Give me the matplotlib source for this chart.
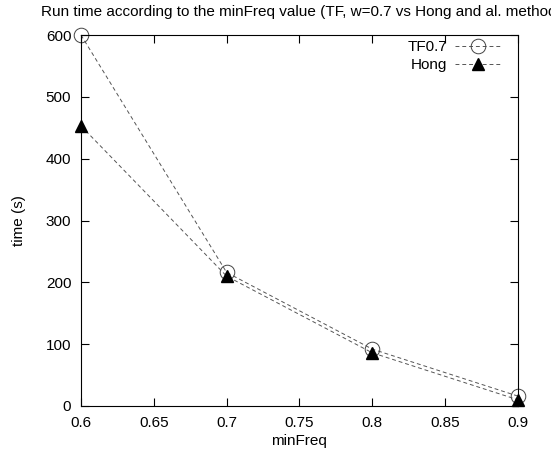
import matplotlib
matplotlib.use("Agg")
import matplotlib.pyplot as plt

# data
min_freq = [0.6, 0.7, 0.8, 0.9]
tf_time = [600, 216, 92, 16]
hong_time = [453, 210, 86, 10]
x_ticks = [0.6, 0.65, 0.7, 0.75, 0.8, 0.85, 0.9]
y_ticks = [0, 100, 200, 300, 400, 500, 600]

plt.rcParams['font.family'] = ['Liberation Sans', 'DejaVu Sans']
plt.rcParams['font.size'] = 11

fig = plt.figure(figsize=(5.51, 4.55), dpi=100)
ax = fig.add_axes([0.147, 0.1077, 0.793, 0.8153])

ax.plot(min_freq, tf_time, color='#555555', lw=0.7, dashes=(4, 3),
        marker='o', markersize=10.5, markerfacecolor='none',
        markeredgecolor='#444444', markeredgewidth=0.7, clip_on=False, label='TF0.7')
ax.plot(min_freq, hong_time, color='#555555', lw=0.7, dashes=(4, 3),
        marker='^', markersize=9, markerfacecolor='black',
        markeredgecolor='black', clip_on=False, label='Hong')

ax.set_xlim(0.6, 0.9)
ax.set_ylim(0, 600)
ax.set_xticks(x_ticks)
ax.set_xticklabels(['0.6', '0.65', '0.7', '0.75', '0.8', '0.85', '0.9'])
ax.set_yticks(y_ticks)
ax.tick_params(direction='in', top=True, right=True, length=6, width=0.8)
ax.tick_params(axis='x', pad=7)
ax.tick_params(axis='y', pad=7)
for s in ax.spines.values():
    s.set_linewidth(0.8)

ax.set_xlabel('minFreq', labelpad=3)
ax.set_ylabel('time (s)', labelpad=14)

ax.legend(loc='upper right', bbox_to_anchor=(0.985, 1.015), frameon=False,
          markerfirst=False, handlelength=3.0, handletextpad=0.5,
          borderaxespad=0.3, labelspacing=0.25)

# title runs off the right edge, as in the original chart
fig.text(41 / 551, 1 - 12 / 455, 'Run time according to the minFreq value (TF, w=0.7 vs Hong and al. method)',
         ha='left', va='center')

fig.savefig('out.png', dpi=100)
